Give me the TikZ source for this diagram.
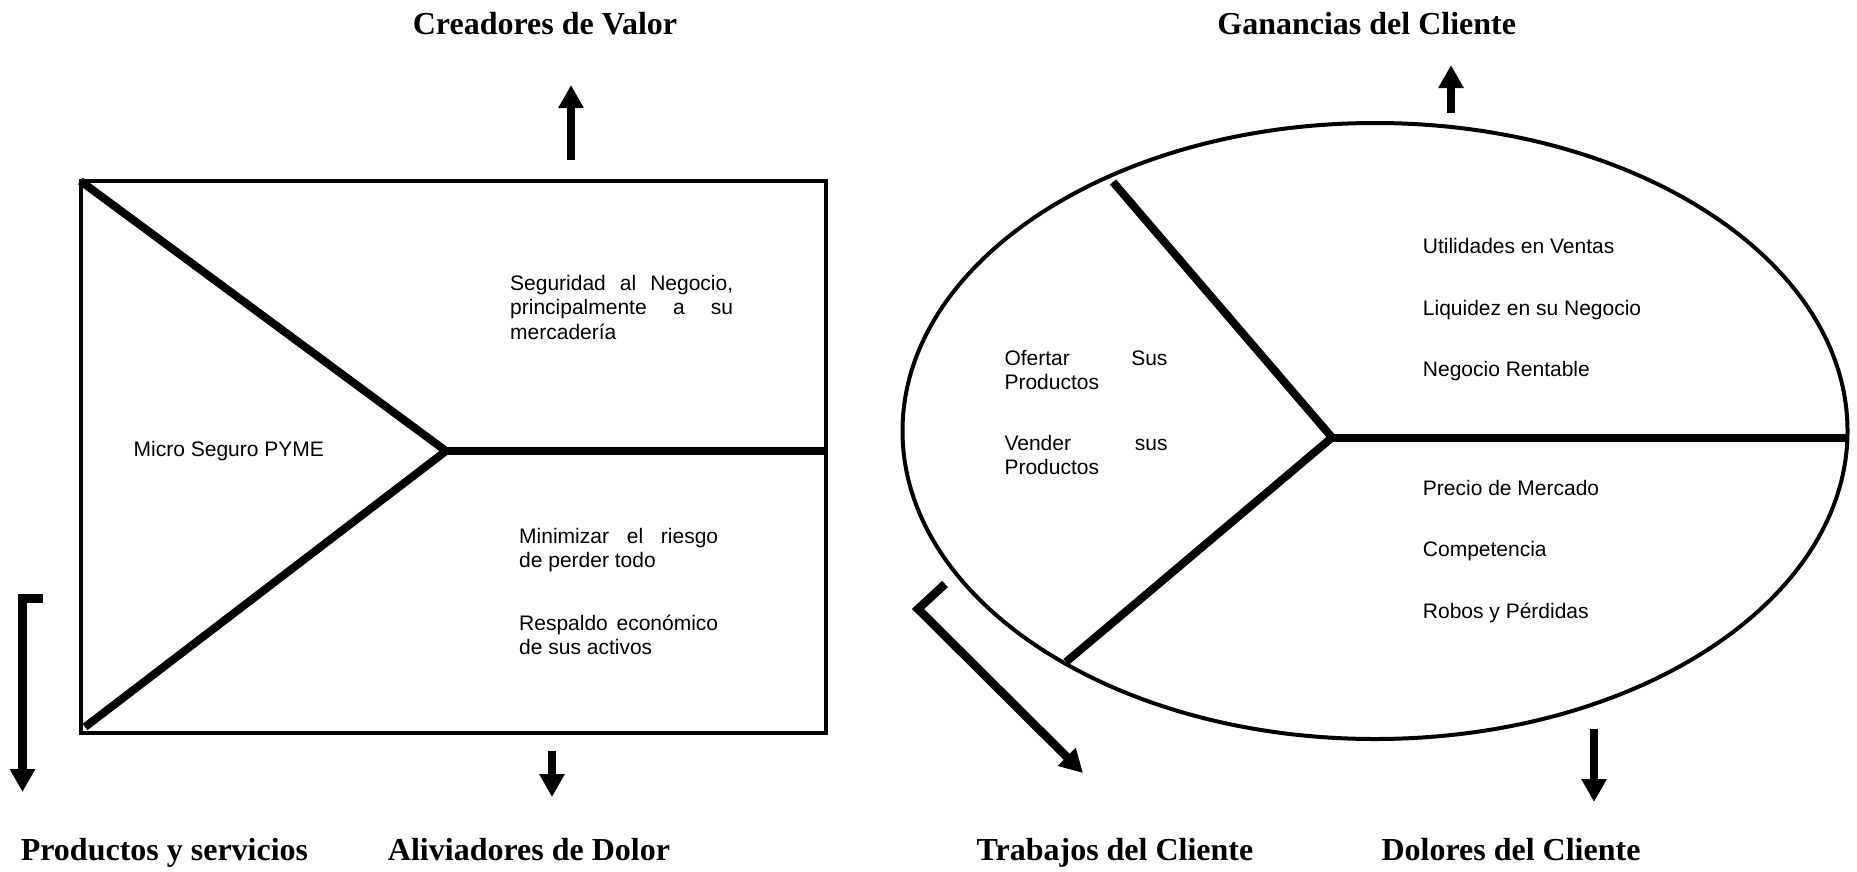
\documentclass[tikz,border=0pt]{standalone}
\usepackage{fontspec}
\setmainfont{Liberation Serif}
\setsansfont{Liberation Sans}
\usetikzlibrary{arrows.meta}

\begin{document}
\begin{tikzpicture}[x=1pt,y=-1pt,
        marco/.style={line width=4pt},
        linea/.style={line width=8pt,line join=round},
        flecha/.style={line width=8.5pt,line join=miter,-{Triangle[width=24pt,length=23pt]}},
        titulo/.style={font=\fontsize{32}{36}\selectfont\bfseries,inner sep=0pt,anchor=base},
        texto/.style={font=\sffamily\fontsize{21}{24.5}\selectfont,inner sep=0pt,anchor=base west},
        bloque/.style={texto,align=justify}]
                \useasboundingbox (0,0) rectangle (1857,871);

                % lienzo de la propuesta de valor
                \coordinate (RA) at (80.5,181);
                \coordinate (RB) at (85,727);
                \coordinate (RV) at (446,451);
                \coordinate (RD) at (825.5,451);
                \draw[marco] (RA) rectangle (825.5,733);
                \draw[linea] (RA) -- (RV) -- (RB);
                \draw[linea] (RV) -- (RD);

                % perfil del cliente
                \coordinate (EA) at (1113,182);
                \coordinate (EB) at (1066,662);
                \coordinate (EV) at (1332,437.5);
                \coordinate (ED) at (1847,437.5);
                \draw[marco] (1375,431) ellipse [x radius=472.5,y radius=308];
                \draw[linea] (EA) -- (EV) -- (EB);
                \draw[linea] (EV) -- (ED);

                % flechas
                \coordinate (c1) at (571,160);  \coordinate (c2) at (571,85);
                \coordinate (g1) at (1451,113); \coordinate (g2) at (1451,65);
                \coordinate (a1) at (552,751);  \coordinate (a2) at (552,797);
                \coordinate (d1) at (1594,729); \coordinate (d2) at (1594,802);
                \coordinate (p0) at (43,598.5); \coordinate (p1) at (22.5,598.5); \coordinate (p2) at (22.5,792);
                \coordinate (t0) at (945,584);  \coordinate (t1) at (918,609);    \coordinate (t2) at (1083,773);
                \draw[flecha] (c1) -- (c2);
                \draw[flecha] (g1) -- (g2);
                \draw[flecha] (a1) -- (a2);
                \draw[flecha] (d1) -- (d2);
                \draw[flecha] (p0) -- (p1) -- (p2);
                \draw[flecha] (t0) -- (t1) -- (t2);

                % titulos
                \node[titulo] (creadores) at (545,34.3) {Creadores de Valor};
                \node[titulo] (ganancias) at (1366.7,34.3) {Ganancias del Cliente};
                \node[titulo] (productos) at (164.5,860.5) {Productos y servicios};
                \node[titulo] (aliviadores) at (529,860.5) {Aliviadores de Dolor};
                \node[titulo] (trabajos) at (1115,860.5) {Trabajos del Cliente};
                \node[titulo] (dolores) at (1511,860.5) {Dolores del Cliente};

                % textos del rectangulo
                \node[texto] (micro) at (133.5,456) {Micro Seguro PYME};
                \node[bloque,text width=223pt] (seguridad) at (510,290)
                    {Seguridad al Negocio,\linebreak principalmente a su\linebreak mercadería};
                \node[bloque,text width=199pt] (minimizar) at (519,543.3)
                    {Minimizar el riesgo\linebreak de perder todo};
                \node[bloque,text width=199pt] (respaldo) at (519,630)
                    {Respaldo económico\linebreak de sus activos};

                % textos de la elipse
                \node[bloque,text width=163pt] (ofertar) at (1004.3,365)
                    {Ofertar Sus\linebreak Productos};
                \node[bloque,text width=163pt] (vender) at (1004.3,450)
                    {Vender sus\linebreak Productos};
                \node[texto] (utilidades) at (1422.7,253.3) {Utilidades en Ventas};
                \node[texto] (liquidez) at (1422.7,315) {Liquidez en su Negocio};
                \node[texto] (rentable) at (1422.7,376.7) {Negocio Rentable};
                \node[texto] (precio) at (1422.7,495) {Precio de Mercado};
                \node[texto] (competencia) at (1422.7,556.7) {Competencia};
                \node[texto] (robos) at (1422.7,618.3) {Robos y Pérdidas};
            \end{tikzpicture}
\end{document}
